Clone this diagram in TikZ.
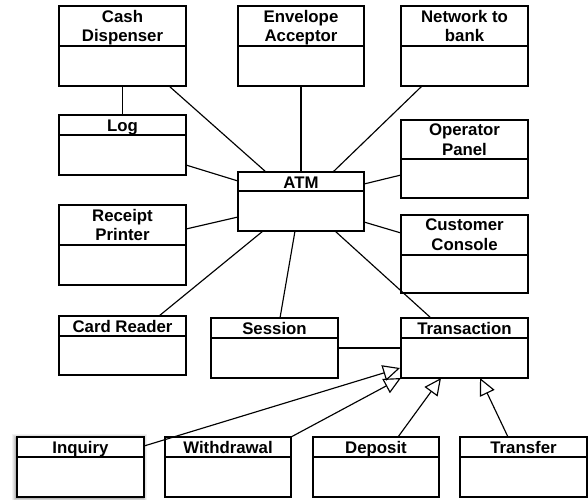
\documentclass[tikz,border=0pt]{standalone}
\usepackage{fontspec}
\setmainfont{Liberation Sans}
\usetikzlibrary{arrows.meta,shadows}

\tikzset{
  classbox/.style={draw, line width=1.3pt, inner sep=0pt, outer sep=0pt, fill=white,
    drop shadow={shadow xshift=0pt, shadow yshift=-1.3pt, opacity=0.7, fill=black}},
  classname/.style={font=\bfseries\fontsize{16.8}{19.6}\selectfont, align=center, inner sep=0pt,
    yshift=-2.8pt, execute at begin node=\strut, execute at end node=\strut},
  divider/.style={line width=1.2pt},
  assoc/.style={line width=1.15pt},
  gen/.style={line width=1.15pt, -{Triangle[open, length=17pt, width=16pt, line width=1.15pt]}},
}

% #1 name, #2 left, #3 top, #4 right, #5 divider y, #6 bottom, #7 title
\newcommand{\umlclass}[7]{%
  \node[classbox, minimum width={(#4-#2)*1pt}, minimum height={(#6-#3)*1pt}] (#1) at ({(#2+#4)/2},{(#3+#6)/2}) {};
  \draw[divider] (#1.west |- 0,#5) -- (#1.east |- 0,#5);
  \node[classname] (#1-name) at ({(#2+#4)/2},{(#3+#5)/2}) {#7};
}

\begin{document}
\begin{tikzpicture}[x=1pt, y=-1pt]
\useasboundingbox (0,0) rectangle (588,499);
\fill[white] (0,0) rectangle (588,499);

% soft shadow of Inquiry
\foreach \s/\o in {5/0.05, 4/0.06, 3/0.08, 2/0.1} {
  \fill[black, opacity=\o] (17-\s,437-\s+2) rectangle (144+\s-2,497+\s);
}

\umlclass{cash}{59}{6}{186}{46}{86}{Cash\\Dispenser}
\umlclass{env}{238}{6}{364}{46}{86}{Envelope\\Acceptor}
\umlclass{net}{401}{6}{528}{46}{86}{Network to\\bank}
\umlclass{log}{59}{115}{186}{135}{175}{Log}
\umlclass{op}{401}{120}{528}{159}{198}{Operator\\Panel}
\umlclass{atm}{238}{172}{364}{191}{231}{ATM}
\umlclass{rcpt}{59}{205}{186}{245}{285}{Receipt\\Printer}
\umlclass{cust}{401}{215}{528}{255}{293}{Customer\\Console}
\umlclass{card}{59}{316}{186}{336}{375}{Card Reader}
\umlclass{sess}{211}{318}{338}{338}{378}{Session}
\umlclass{trans}{401}{318}{528}{338}{378}{Transaction}
\umlclass{inq}{17}{437}{144}{457}{497}{Inquiry}
\umlclass{wd}{165}{437}{291}{457}{497}{Withdrawal}
\umlclass{dep}{313}{437}{439}{457}{497}{Deposit}
\umlclass{xfer}{460}{437}{587}{457}{497}{Transfer}

% associations
\draw[assoc] (cash.south) -- (log.north);
\draw[assoc] ([xshift=46.5pt]cash.south) -- ([xshift=-35pt]atm.north);
\draw[assoc] (env.south) -- (atm.north);
\draw[assoc] ([xshift=-42.5pt]net.south) -- ([xshift=32pt]atm.north);
\draw[assoc] ([yshift=-20pt]log.east) -- ([yshift=20.5pt]atm.west);
\draw[assoc] ([yshift=16pt]rcpt.east) -- ([yshift=-15.5pt]atm.west);
\draw[assoc] ([yshift=-16pt]op.west) -- ([yshift=17.5pt]atm.east);
\draw[assoc] ([yshift=21pt]cust.west) -- ([yshift=-20.5pt]atm.east);
\draw[assoc] ([xshift=36.5pt]card.north) -- ([xshift=-38pt]atm.south);
\draw[assoc] ([xshift=5.5pt]sess.north) -- ([xshift=-6pt]atm.south);
\draw[assoc] ([xshift=-33.5pt]trans.north) -- ([xshift=34pt]atm.south);
\draw[assoc] (sess.east) -- (trans.west);

% generalizations
\draw[gen] ([yshift=21pt]inq.east) -- ([xshift=-1pt, yshift=-20pt]trans.west);
\draw[gen] (wd.north east) -- (trans.south west);
\draw[gen] ([xshift=22pt]dep.north) -- ([xshift=-23.5pt]trans.south);
\draw[gen] ([xshift=-15.5pt]xfer.north) -- ([xshift=15.5pt]trans.south);
\end{tikzpicture}
\end{document}
